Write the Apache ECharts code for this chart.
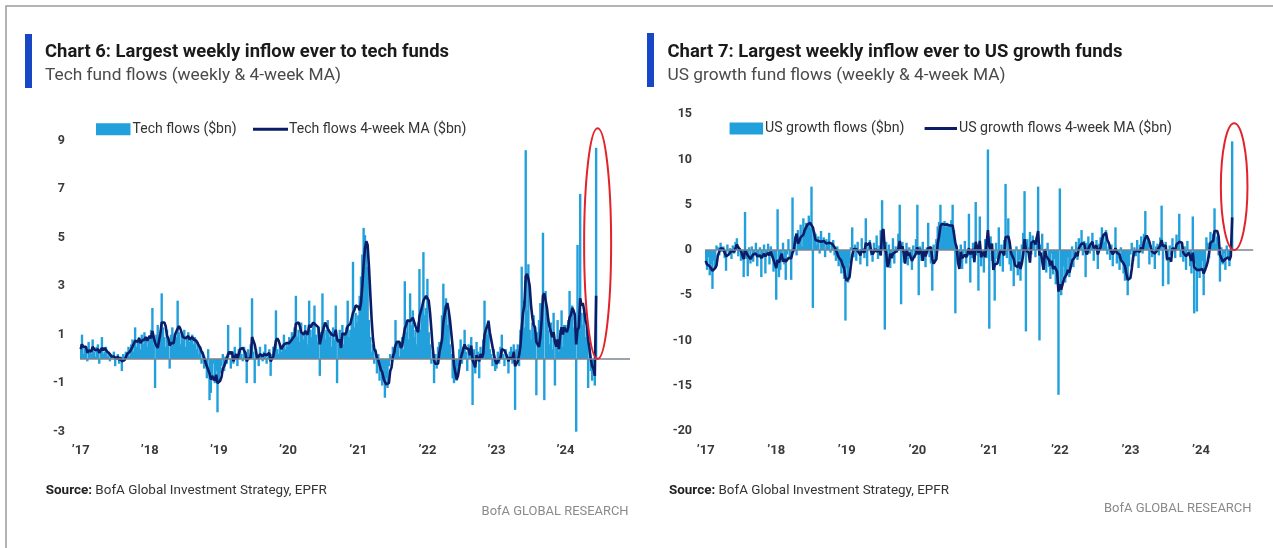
<!DOCTYPE html>
<html><head><meta charset="utf-8">
<script src="https://cdn.jsdelivr.net/npm/echarts@6/dist/echarts.min.js"></script>
<style>html,body{margin:0;padding:0;background:#fff}#c{width:1273px;height:548px}</style>
</head><body><div id="c"></div>
<script>
// ---------------- DATA ----------------
// Tech fund flows, weekly ($bn), one array per calendar year (weeks starting 2017-01-04)
const techFlows2017 = [0.6,1.0,0.2,0.5,0.3,-0.1,0.7,0.4,0.2,0.8, 0.3,0.1,0.5,0.6,-0.2,0.4,0.9,0.2,0.3,0.5, 0.1,0.3,-0.1,0.2,0.0,0.3,-0.3,0.1,0.2,-0.2, 0.1,-0.5,0.2,0.0,0.3,0.2,0.5,0.1,0.6,0.8, 0.3,1.3,0.5,0.7,0.9,0.4,1.0,0.6,1.1,0.8, 0.5,0.9];
const techFlows2018 = [0.8,1.2,2.1,0.6,-1.2,1.0,1.4,0.7,1.1,2.7, 1.3,0.9,0.5,1.2,0.8,-0.4,1.0,1.3,0.7,1.0, 0.9,2.4,1.1,0.6,1.0,0.8,1.2,0.5,0.9,1.1, 0.7,0.8,1.0,0.6,0.9,0.4,0.7,0.2,0.5,-0.2, 0.3,-0.4,-0.3,-0.8,0.4,-1.7,-1.4,-0.9,-0.2,-1.0, -0.5,-2.2];
const techFlows2019 = [-0.9,-0.6,-0.3,0.2,-0.5,0.1,-0.2,1.4,0.0,-0.4, 0.3,-0.2,0.5,0.1,-0.3,0.4,1.3,0.2,-0.1,0.5, 0.3,-1.0,0.4,0.2,0.6,2.5,0.3,-1.0,0.4,0.1, -0.3,0.5,0.2,-0.1,0.3,0.6,-0.2,0.1,0.4,-0.7, 0.2,0.5,0.3,2.0,0.4,0.2,0.6,0.3,0.5,1.0, 0.4,0.7];
const techFlows2020 = [0.5,0.9,0.6,1.1,0.8,1.3,2.6,0.9,1.2,0.7, 1.5,1.0,0.8,1.4,1.1,0.6,2.4,1.2,0.9,1.5, 2.2,1.0,0.7,1.3,-0.7,1.1,2.7,1.4,0.8,1.2, 1.6,0.9,1.1,0.5,1.3,0.8,2.2,-1.0,0.7,1.2, 0.9,1.4,0.6,1.1,1.3,2.4,0.9,1.2,1.6,4.0, 1.3,1.9,1.5];
const techFlows2021 = [1.8,2.6,3.4,4.3,5.4,5.1,4.6,3.8,1.6,0.9, 0.3,0.6,-0.2,0.4,-0.6,0.2,-0.9,-0.4,-1.1,-0.7, -1.6,-0.8,-1.2,-0.3,0.2,-0.1,0.5,0.3,1.6,0.4, 0.7,0.1,0.6,0.9,0.4,3.2,1.1,1.6,0.8,2.7, 1.4,2.0,0.9,1.2,0.6,1.5,3.7,1.2,2.2,4.4, 1.8,2.1];
const techFlows2022 = [3.3,1.1,0.6,-0.2,0.3,-1.0,0.2,-0.4,0.5,0.7, 0.3,1.8,3.1,2.2,2.5,1.4,1.9,0.6,0.2,-0.8, -1.0,-0.6,-0.9,-0.3,0.4,0.8,-0.2,0.5,1.2,0.3, -0.5,0.6,0.2,0.9,-1.9,0.4,-0.6,0.7,0.3,-0.8, 0.5,0.2,0.8,2.4,1.3,1.0,1.6,0.4,0.2,-0.3, 0.4,-0.5];
const techFlows2023 = [-0.4,0.3,-0.2,0.5,1.0,0.2,-0.3,0.4,0.1,-0.6, 0.3,0.5,-0.2,0.6,-2.1,0.4,0.6,-0.3,1.2,3.8, 2.4,1.3,8.6,2.0,3.9,1.2,0.8,1.5,1.8,0.9, -1.5,1.1,1.6,2.3,1.4,5.2,-1.7,2.8,1.9,1.2, 0.6,1.5,0.4,1.9,-1.1,0.8,1.6,0.3,1.2,2.0, 0.5,1.4];
const techFlows2024 = [1.4,1.1,1.6,2.8,1.8,2.2,1.3,1.9,-3.0,4.7, 1.5,6.8,1.9,1.4,2.1,0.9,1.2,-1.2,0.6,-0.5, -0.9,-0.3,-1.1,8.7];

// Tech flows 4-week moving average ($bn)
const techMA2017 = [0.4,0.6,0.5,0.55,0.5,0.25,0.35,0.3,0.3,0.5, 0.45,0.35,0.4,0.4,0.25,0.35,0.45,0.35,0.45,0.5, 0.3,0.3,0.2,0.1,0.1,0.1,0.05,0.0,0.1,-0.05, 0.05,-0.1,-0.1,-0.05,0.0,0.2,0.25,0.3,0.35,0.5, 0.45,0.75,0.75,0.7,0.85,0.65,0.75,0.75,0.8,0.9, 0.75,0.85];
const techMA2018 = [0.95,0.85,1.15,1.15,0.65,0.6,0.45,0.5,1.05,1.5, 1.45,1.5,1.35,0.95,0.85,0.55,0.65,0.7,0.65,1.0, 1.0,1.25,1.35,1.25,1.3,0.9,0.9,0.85,0.85,0.95, 0.8,0.85,0.9,0.8,0.8,0.75,0.65,0.55,0.45,0.3, 0.2,0.05,-0.15,-0.3,-0.3,-0.6,-0.85,-0.7,-0.8,-0.9, -0.65,-1.0];
const techMA2019 = [-0.95,-0.9,-0.75,-0.4,-0.3,-0.15,-0.1,0.2,0.3,0.2, 0.3,-0.1,0.05,0.2,0.0,0.2,0.4,0.4,0.45,0.5, 0.25,-0.1,0.0,0.0,0.05,0.9,0.9,0.6,0.55,0.0, 0.1,0.2,0.15,0.1,0.2,0.25,0.15,0.2,0.25,-0.1, 0.0,0.1,0.1,0.75,0.85,0.75,0.8,0.4,0.4,0.6, 0.55,0.65];
const techMA2020 = [0.6,0.65,0.65,0.8,0.85,0.95,1.45,1.4,1.5,1.35, 1.1,1.1,1.0,1.15,1.1,1.0,1.4,1.3,1.3,1.5, 1.45,1.4,1.35,1.3,0.6,0.6,1.1,1.1,1.5,1.5, 1.25,1.15,1.2,1.0,0.95,0.95,1.2,0.8,0.7,0.8, 0.45,1.05,1.0,1.0,1.1,1.35,1.4,1.45,1.5,1.9, 2.0,2.2,2.2];
const techMA2021 = [2.15,2.0,2.3,3.0,3.9,4.55,4.85,4.7,3.8,2.7, 1.65,0.85,0.4,0.3,0.05,-0.05,-0.25,-0.45,-0.55,-0.8, -0.95,-1.05,-1.1,-1.0,-0.5,-0.35,0.1,0.25,0.55,0.7, 0.75,0.7,0.45,0.55,0.5,1.25,1.4,1.6,1.65,1.55, 1.6,1.7,1.75,1.35,1.2,1.1,1.75,1.75,2.15,2.4, 2.4,2.6];
const techMA2022 = [2.6,2.4,1.9,1.2,0.45,-0.05,-0.2,-0.25,-0.2,0.25, 0.25,0.8,1.5,1.85,2.15,2.3,2.0,1.6,1.05,0.5, -0.25,-0.55,-0.85,-0.7,-0.35,0.0,0.2,0.4,0.6,0.45, 0.4,0.4,0.15,0.55,-0.05,-0.1,-0.35,0.15,0.2,-0.1, 0.2,0.05,0.2,1.0,1.2,1.35,1.55,1.1,0.8,0.5, 0.2,-0.05];
const techMA2023 = [-0.2,-0.1,-0.1,0.05,0.4,0.4,0.35,0.3,0.1,-0.1, 0.05,0.1,0.0,0.3,-0.3,-0.3,-0.1,0.15,0.5,1.3, 1.9,2.2,3.4,3.5,3.3,3.0,2.2,1.7,1.4,1.3, 0.7,0.6,0.5,0.9,1.6,2.6,2.7,2.4,2.1,1.6, 1.3,1.3,0.9,1.1,0.7,0.5,0.8,0.4,1.0,1.3, 1.0,1.3];
const techMA2024 = [1.2,1.1,1.3,1.7,1.8,2.1,2.0,1.8,0.6,1.2, 1.3,2.5,2.2,2.3,2.0,1.6,1.4,0.8,0.4,0.0, -0.3,-0.4,-0.7,2.6];

// US growth fund flows, weekly ($bn)
const growthFlows2017 = [-1.5,-2.2,-0.8,-2.8,-1.6,-4.3,-1.2,-2.0,0.5,0.3, -0.6,0.8,-0.2,0.4,-0.9,-2.3,0.6,-0.3,0.2,-1.0, 0.5,-0.4,0.9,1.3,-0.7,0.2,-1.2,-0.5,-3.0,4.2, -1.0,-2.9,0.3,-1.5,0.4,-1.3,-0.5,0.8,-1.8,-0.6, 0.3,-3.0,-0.9,0.6,-2.6,-0.3,0.7,-1.6,0.4,-0.8, -2.4,-1.2];
const growthFlows2018 = [-5.5,4.5,-3.0,-2.2,-1.0,0.8,-1.6,-3.3,-0.5,1.2, -0.8,-3.3,5.8,0.7,1.5,-0.6,2.2,1.0,2.8,0.4, 3.5,2.1,3.0,2.6,3.8,2.4,7.0,-6.4,2.0,1.8, 0.6,1.5,-0.4,2.1,0.9,1.4,-0.8,1.2,0.5,1.9, -0.3,0.8,1.1,-0.6,-1.2,0.4,-1.8,-0.9,-2.6,-1.4, -3.2,-7.8];
const growthFlows2019 = [-2.0,-3.6,-1.5,0.3,2.5,-0.8,0.6,-1.2,0.9,-0.4, -1.6,1.3,0.2,-0.9,3.5,-1.8,0.4,1.1,-0.6,-1.3, 0.8,-0.2,1.6,-1.0,0.5,2.2,5.5,1.4,-8.8,0.9, -1.2,0.6,-2.0,-0.8,1.3,-1.5,0.4,-0.3,1.8,5.0, -6.0,0.9,-1.4,-0.6,0.8,-1.7,0.3,-1.0,-2.2,0.5, -0.9,1.2];
const growthFlows2020 = [5.0,-5.0,0.4,-1.2,0.9,-0.6,-1.9,0.3,3.0,-0.8, -1.5,-4.5,0.6,-1.1,1.2,2.6,3.1,5.0,2.7,2.9, 3.2,2.5,3.0,2.8,2.6,3.3,5.0,2.2,-7.0,0.5, -1.3,-0.8,0.6,-2.1,-0.4,1.0,-1.5,-0.7,4.0,-3.6, -0.9,0.8,-1.4,5.3,-0.6,-4.5,3.7,-1.8,-0.3,-2.5, 1.2,-0.9,11.1];
const growthFlows2021 = [-8.7,1.5,-1.2,-0.4,-5.6,0.8,-1.0,2.5,-1.8,0.6, -2.4,1.1,7.3,-0.9,3.5,-1.6,-2.3,-0.7,-4.0,-1.5, 0.4,-2.8,-1.1,-3.4,0.6,1.9,6.5,-9.0,1.2,0.3, 2.0,-0.5,1.6,0.9,-0.8,1.4,7.0,-10.0,0.6,1.8, -1.4,-0.6,-2.5,0.8,-1.9,-3.2,-0.4,-2.7,-1.0,-3.8, -2.2,-16.0];
const growthFlows2022 = [6.8,-5.0,-3.1,-1.8,-3.6,-2.4,-0.8,-3.0,-1.2,0.4, -1.9,-0.5,0.9,-1.1,1.3,0.2,2.2,-0.6,1.0,-3.0, 0.8,1.5,-0.4,0.6,1.9,-1.2,0.3,1.1,-2.1,0.7, 1.4,2.5,1.8,0.9,2.2,-0.5,0.4,-1.1,0.6,-1.8, -0.4,2.5,-1.5,-0.9,-2.2,0.3,-1.3,-2.6,-3.4,-2.9, -5.0,-1.8];
const growthFlows2023 = [-0.5,0.8,-1.2,0.3,-0.7,1.1,-2.0,0.6,1.5,-0.4, 1.8,4.3,0.9,1.2,-1.6,0.5,-0.8,1.0,-2.1,0.4, 0.7,-0.6,1.4,4.9,-4.0,0.3,0.9,-1.2,-3.8,0.5, -0.6,1.3,0.2,-0.9,1.7,0.6,4.0,-0.8,0.5,-1.3, 0.4,-2.2,1.0,-0.5,-1.8,-2.6,3.7,-7.0,-1.5,-6.8, -2.4,-3.1];
const growthFlows2024 = [-2.0,-1.2,-5.0,-2.3,1.4,0.8,-0.9,2.0,1.1,1.8, 4.6,0.7,1.5,-0.6,-3.5,0.3,-1.6,-0.4,-2.2,0.5, -1.0,-1.8,-0.6,12.0];

// US growth flows 4-week moving average ($bn)
const growthMA2017 = [-1.2,-1.6,-1.5,-1.8,-1.9,-2.3,-2.2,-2.0,-1.7,-0.6, -0.4,0.2,0.1,0.1,0.0,-0.7,-0.5,-0.5,-0.4,-0.1, -0.2,-0.2,0.0,0.6,0.3,0.4,-0.1,-0.6,-1.0,0.0, -0.2,-0.6,-0.4,-1.0,-0.9,-0.5,-0.6,-0.4,-0.7,-0.5, -0.6,-0.9,-0.7,-0.4,-0.7,-0.5,-0.3,-0.6,-0.2,-0.3, -1.1,-1.0];
const growthMA2018 = [-2.0,-1.1,-1.4,-1.6,-0.4,-1.3,-1.0,-1.3,-1.2,-0.9, -0.9,-0.9,-0.3,0.0,1.2,1.8,0.7,1.0,1.4,1.6, 1.7,2.2,2.3,2.8,2.9,3.0,3.1,2.5,1.8,1.1, 1.3,1.0,1.0,0.9,1.0,1.0,0.9,0.7,0.6,0.8, 0.8,0.7,0.9,0.3,0.0,-0.1,-0.8,-0.9,-1.2,-1.7, -2.0,-3.0];
const growthMA2019 = [-3.4,-3.5,-3.0,-1.7,-0.6,0.1,0.3,0.1,0.0,-0.3, -0.6,0.0,-0.1,-0.3,0.8,0.5,0.6,0.8,-0.2,-0.5, -0.4,0.1,-0.2,-0.1,0.0,-0.6,2.0,2.3,0.1,-0.3, -1.9,-1.4,-0.4,-0.9,-0.4,-0.5,-0.2,0.0,0.1,1.0, 0.1,0.4,-0.4,-1.5,0.0,-0.6,-0.3,-0.4,-1.2,-0.9, -0.8,-0.4];
const growthMA2020 = [0.3,-0.5,0.1,-0.2,-1.2,-0.1,-0.7,-0.6,0.2,0.1, 0.3,-1.0,-1.5,-1.6,-1.0,0.7,1.5,2.6,2.9,2.8, 2.8,2.8,2.8,2.8,2.7,2.8,2.7,2.6,0.8,0.2, -1.4,-2.1,-0.2,-0.9,-0.7,-0.5,-0.8,-0.4,0.2,-0.5, -0.3,0.1,-1.3,0.9,1.0,-0.3,1.0,-0.8,-0.7,-0.2, -0.8,-0.6,2.2];
const growthMA2021 = [0.4,0.1,0.7,-2.2,-1.6,-1.6,-1.5,-0.8,-0.1,0.1, -0.3,-0.6,1.4,1.3,1.5,0.9,-0.3,-0.2,-1.0,-1.7, -1.5,-1.9,-1.3,-2.1,-1.5,-0.5,1.2,0.0,-0.1,-0.3, -1.4,0.8,0.9,1.0,0.6,0.8,2.1,-0.6,-0.3,-0.2, -2.2,0.1,-0.7,-0.9,-1.1,-1.7,-1.2,-2.1,-1.8,-2.0, -2.4,-4.6];
const growthMA2022 = [-3.8,-4.4,-4.3,-3.2,-3.4,-2.7,-2.2,-2.5,-1.9,-1.2, -1.4,-0.8,-0.3,-0.7,0.2,0.3,0.7,0.8,0.7,-0.1, -0.5,0.1,0.5,0.6,0.9,0.2,0.4,0.5,-0.5,0.0, 0.3,1.1,1.6,1.7,1.9,1.1,0.8,0.3,-0.2,-0.5, -0.7,0.2,-0.3,-0.1,-0.5,-1.1,-1.0,-1.5,-1.8,-2.6, -3.3,-3.3];
const growthMA2023 = [-3.1,-2.1,-0.8,-0.2,-0.2,-0.1,-0.3,-0.2,0.3,0.0, 0.9,1.3,1.6,1.3,0.9,0.3,-0.2,-0.2,-0.4,-0.4, 0.0,-0.1,0.5,1.1,0.4,0.3,0.5,-1.0,-1.0,-0.9, -1.3,0.2,0.1,0.0,0.6,0.4,0.9,0.8,0.8,-0.3, -0.2,-0.7,-0.5,-0.3,-0.7,-1.2,-0.3,-1.9,-1.9,-2.2, -2.0,-2.2];
const growthMA2024 = [-2.3,-2.1,-2.6,-2.6,-1.8,-1.3,-0.3,0.8,0.7,1.0, 2.1,2.0,2.1,1.5,-0.5,-0.5,-1.3,-1.3,-1.0,-0.9, -0.8,-1.1,-0.7,3.6];

// Axis ticks
const techYTicks = [-3, -1, 1, 3, 5, 7, 9];
const growthYTicks = [-20, -15, -10, -5, 0, 5, 10, 15];
// Weekly date categories (incl. empty weeks after the last reading)
const firstWeek = Date.UTC(2017, 0, 4);
const weekCount = 414;
const growthAxisLastIndex = 403;
// Annotation: top of the red ellipse, in each chart's own units
const techEllipseTop = 9.5;
const growthEllipseTop = 14;

// ---------------- BUILD ----------------
const categories = [];
for (let i = 0; i < weekCount; i++) {
  categories.push(new Date(firstWeek + i * 7 * 86400000).toISOString().slice(0, 10));
}
const techFlows = [].concat(techFlows2017, techFlows2018, techFlows2019, techFlows2020, techFlows2021, techFlows2022, techFlows2023, techFlows2024);
const techMA = [].concat(techMA2017, techMA2018, techMA2019, techMA2020, techMA2021, techMA2022, techMA2023, techMA2024);
const growthFlows = [].concat(growthFlows2017, growthFlows2018, growthFlows2019, growthFlows2020, growthFlows2021, growthFlows2022, growthFlows2023, growthFlows2024);
const growthMA = [].concat(growthMA2017, growthMA2018, growthMA2019, growthMA2020, growthMA2021, growthMA2022, growthMA2023, growthMA2024);

const FONT = 'Roboto';
const BAR = '#22a0dc';
const MA = '#0c1d68';
const ZERO = '#7a8493';
const AXIS_TXT = '#3a3a3a';

function yearLabelShown(index, value) { return value.slice(5, 7) === '01' && +value.slice(8, 10) <= 7; }
function yearLabel(value) { return '\u2019' + value.slice(2, 4); }

function xAxisFor(gridIndex, max) {
  const ax = {
    type: 'category', gridIndex, data: categories, boundaryGap: true,
    axisLine: { show: false }, axisTick: { show: false }, splitLine: { show: false },
    axisLabel: { interval: yearLabelShown, formatter: yearLabel, color: AXIS_TXT, fontFamily: FONT, fontSize: 13, fontWeight: 'bold', margin: 13 }
  };
  if (max != null) ax.max = max;
  return ax;
}
function yAxisFor(gridIndex, ticks, margin) {
  return {
    type: 'value', gridIndex, min: ticks[0], max: ticks[ticks.length - 1],
    interval: ticks[1] - ticks[0],
    axisLine: { show: false }, axisTick: { show: false }, splitLine: { show: false },
    axisLabel: { customValues: ticks, color: AXIS_TXT, fontFamily: FONT, fontSize: 12.5, fontWeight: 'bold', margin }
  };
}
function barSeries(name, idx, data) {
  return {
    type: 'bar', name, xAxisIndex: idx, yAxisIndex: idx, data, barWidth: 2.4,
    itemStyle: { color: BAR }, z: 2, silent: true,
    markLine: { silent: true, symbol: ['none', 'none'], label: { show: false },
      lineStyle: { color: ZERO, width: 1.5, type: 'solid' }, data: [{ yAxis: 0 }] }
  };
}
function lineSeries(name, idx, data) {
  return {
    type: 'line', name, xAxisIndex: idx, yAxisIndex: idx, data, symbol: 'none', showSymbol: false,
    lineStyle: { color: MA, width: 2.6 }, itemStyle: { color: MA }, z: 4, silent: true
  };
}

const chart = echarts.init(document.getElementById('c'), null, { renderer: 'canvas' });
chart.setOption({
  animation: false,
  backgroundColor: '#ffffff',
  grid: [
    { left: 80, top: 140.5, width: 550, height: 291.2 },
    { left: 705, top: 114.2, width: 548.2, height: 316.8 }
  ],
  xAxis: [xAxisFor(0), xAxisFor(1, growthAxisLastIndex)],
  yAxis: [yAxisFor(0, techYTicks, 15), yAxisFor(1, growthYTicks, 13)],
  series: [
    barSeries('Tech flows ($bn)', 0, techFlows),
    lineSeries('Tech flows 4-week MA ($bn)', 0, techMA),
    barSeries('US growth flows ($bn)', 1, growthFlows),
    lineSeries('US growth flows 4-week MA ($bn)', 1, growthMA)
  ]
});

// ---------------- TEXT / DECORATION ----------------
const mctx = document.createElement('canvas').getContext('2d');
function measure(str, size, weight) { mctx.font = weight + ' ' + size + 'px ' + FONT; return mctx.measureText(str).width; }
function fitText(str, x, y, target, size, weight, fill, align) {
  const w = measure(str, size, weight);
  return { type: 'text', x, y, scaleX: target / w, silent: true,
    style: { text: str, fontSize: size, fontWeight: weight, fontFamily: FONT, fill, align: align || 'left', verticalAlign: 'middle' } };
}
function sourceText(x, y, target) {
  const a = 'Source:', b = ' BofA Global Investment Strategy, EPFR';
  const w = measure(a, 13.5, 'bold') + measure(b, 13.5, 'normal');
  return { type: 'text', x, y, scaleX: target / w, silent: true,
    style: { text: '{b|' + a + '}' + b, fontSize: 13.5, fontFamily: FONT, fill: '#333', verticalAlign: 'middle',
      rich: { b: { fontWeight: 'bold', fontSize: 13.5, fontFamily: FONT, fill: '#222' } } } };
}
function legendItems(rx, rw, t1x, t1w, t1, lx1, lx2, t2x, t2w, t2, y) {
  return [
    { type: 'rect', silent: true, shape: { x: rx, y: y - 6, width: rw, height: 12 }, style: { fill: BAR } },
    fitText(t1, t1x, y, t1w, 14.5, 'normal', '#333'),
    { type: 'line', silent: true, shape: { x1: lx1, y1: y, x2: lx2, y2: y }, style: { stroke: MA, lineWidth: 3 } },
    fitText(t2, t2x, y, t2w, 14.5, 'normal', '#333')
  ];
}

const last = techFlows.length - 1;
const tBot = chart.convertToPixel({ gridIndex: 0 }, [categories[last], 0]);
const tTop = chart.convertToPixel({ gridIndex: 0 }, [categories[last], techEllipseTop]);
const gBot = chart.convertToPixel({ gridIndex: 1 }, [categories[growthFlows.length - 1], 0]);
const gTop = chart.convertToPixel({ gridIndex: 1 }, [categories[growthFlows.length - 1], growthEllipseTop]);

const elements = [
  { type: 'rect', silent: true, shape: { x: 6, y: 6, width: 1400, height: 700 }, style: { fill: 'none', stroke: '#9c9c9c', lineWidth: 1.5 } },
  // left panel
  { type: 'rect', silent: true, shape: { x: 25, y: 34, width: 7, height: 54 }, style: { fill: '#1747c4' } },
  fitText('Chart 6: Largest weekly inflow ever to tech funds', 45, 52, 404, 19, 'bold', '#1a1a1a'),
  fitText('Tech fund flows (weekly & 4-week MA)', 45, 75.5, 296, 16.5, 'normal', '#4a4a4a'),
  ...legendItems(96, 34.5, 132.6, 104, 'Tech flows ($bn)', 253, 288, 289, 177.5, 'Tech flows 4-week MA ($bn)', 129.3),
  sourceText(45.7, 491, 281),
  fitText('BofA GLOBAL RESEARCH', 628.6, 512, 147, 13, 'normal', '#8a8a8a', 'right'),
  // right panel
  { type: 'rect', silent: true, shape: { x: 647, y: 33, width: 7, height: 54 }, style: { fill: '#1747c4' } },
  fitText('Chart 7: Largest weekly inflow ever to US growth funds', 667.5, 52, 455, 19, 'bold', '#1a1a1a'),
  fitText('US growth fund flows (weekly & 4-week MA)', 667.5, 75.5, 338, 16.5, 'normal', '#4a4a4a'),
  ...legendItems(729.6, 33.5, 765, 139.4, 'US growth flows ($bn)', 924.6, 957, 959, 213, 'US growth flows 4-week MA ($bn)', 128.5),
  sourceText(669, 491, 280),
  fitText('BofA GLOBAL RESEARCH', 1251.6, 509, 147.6, 13, 'normal', '#8a8a8a', 'right'),
  // red highlight ellipses around the latest week
  { type: 'ellipse', silent: true, z: 10, shape: { cx: tBot[0] + 1.5, cy: (tBot[1] + tTop[1]) / 2, rx: 13.5, ry: (tBot[1] - tTop[1]) / 2 },
    style: { fill: 'none', stroke: '#e3232b', lineWidth: 2 } },
  { type: 'ellipse', silent: true, z: 10, shape: { cx: gBot[0] + 2, cy: (gBot[1] + gTop[1]) / 2, rx: 13.3, ry: (gBot[1] - gTop[1]) / 2 },
    style: { fill: 'none', stroke: '#e3232b', lineWidth: 2 } }
];
chart.setOption({ graphic: { elements } });
</script>
</body></html>
